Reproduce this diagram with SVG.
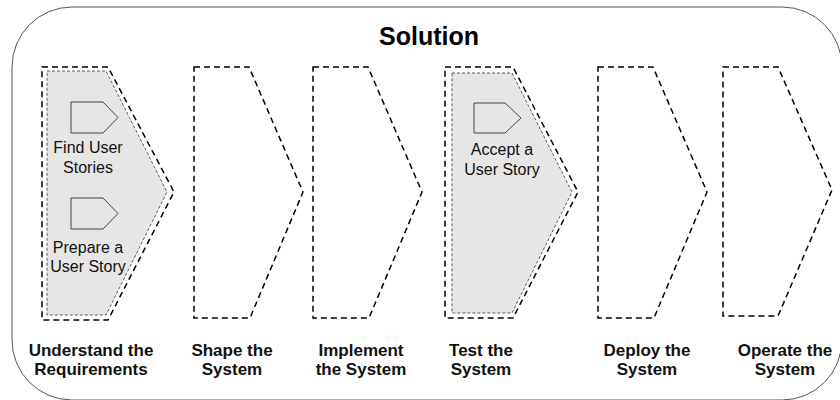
<svg xmlns="http://www.w3.org/2000/svg" width="840" height="400" viewBox="0 0 840 400">
  <style>
    .frame { fill: #ffffff; stroke: #555555; stroke-width: 1; }
    .stage { fill: none; stroke: #000000; stroke-width: 1.5; stroke-dasharray: 6 4; }
    .active { fill: #e6e6e6; stroke: #333333; stroke-width: 0.8; stroke-dasharray: 3 2; }
    .task { fill: none; stroke: #444444; stroke-width: 1; }
    .title { font-family: "Liberation Sans", Arial, sans-serif; font-weight: bold; font-size: 25px; fill: #000; text-anchor: middle; }
    .label { font-family: "Liberation Sans", Arial, sans-serif; font-weight: bold; font-size: 17px; fill: #111; text-anchor: middle; }
    .tasklabel { font-family: "Liberation Sans", Arial, sans-serif; font-size: 16px; fill: #111; text-anchor: middle; }
  </style>

  <rect class="frame" x="12" y="7" width="830" height="393" rx="60" ry="60"/>
  <text class="title" x="429" y="45">Solution</text>

  <g id="understand">
    <polygon class="active" points="47,71 106,71 167,192 106,315 47,315"/>
    <polygon class="stage" points="42,67 108,67 174,192 108,320 42,320"/>
    <g id="find-user-stories">
      <polygon class="task" points="71,102 103,102 118,117.5 103,133 71,133"/>
      <text class="tasklabel" x="88" y="153">Find User</text>
      <text class="tasklabel" x="88" y="173">Stories</text>
    </g>
    <g id="prepare-user-story">
      <polygon class="task" points="71,198 103,198 118,213.5 103,229 71,229"/>
      <text class="tasklabel" x="88" y="253">Prepare a</text>
      <text class="tasklabel" x="88" y="272">User Story</text>
    </g>
    <text class="label" x="91" y="356">Understand the</text>
    <text class="label" x="91" y="375">Requirements</text>
  </g>

  <g id="shape">
    <polygon class="stage" points="194,67 249,67 303,192 250,318 194,318"/>
    <text class="label" x="232" y="356">Shape the</text>
    <text class="label" x="232" y="375">System</text>
  </g>

  <g id="implement">
    <polygon class="stage" points="313,67 368,67 422,192 369,318 313,318"/>
    <text class="label" x="361" y="356">Implement</text>
    <text class="label" x="361" y="375">the System</text>
  </g>

  <g id="test">
    <polygon class="active" points="452,73 512,73 572,192 512,313 452,313"/>
    <polygon class="stage" points="445,67 513,67 578,192 513,318 445,318"/>
    <g id="accept-user-story">
      <polygon class="task" points="474,103 505,103 521,118 505,133 474,133"/>
      <text class="tasklabel" x="502" y="155">Accept a</text>
      <text class="tasklabel" x="502" y="175">User Story</text>
    </g>
    <text class="label" x="481" y="356">Test the</text>
    <text class="label" x="481" y="375">System</text>
  </g>

  <g id="deploy">
    <polygon class="stage" points="598,67 653,67 707,192 654,318 598,318"/>
    <text class="label" x="647" y="356">Deploy the</text>
    <text class="label" x="647" y="375">System</text>
  </g>

  <g id="operate">
    <polygon class="stage" points="723,67 778,67 832,190 778,316 723,316"/>
    <text class="label" x="785" y="356">Operate the</text>
    <text class="label" x="785" y="375">System</text>
  </g>

  <g id="connectors"></g>
</svg>
